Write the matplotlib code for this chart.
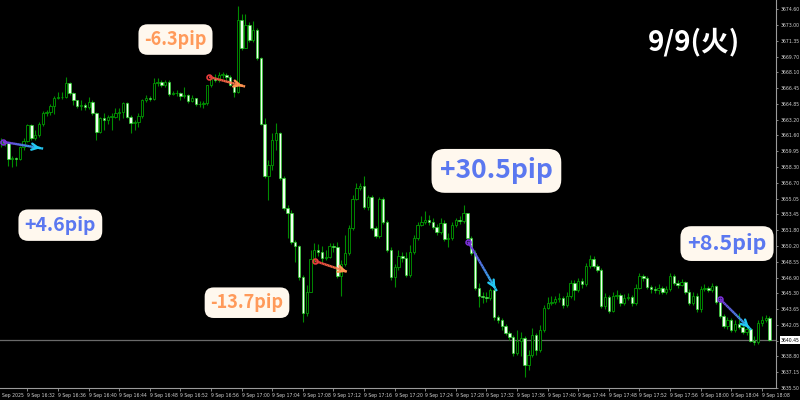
import numpy as np
import matplotlib
matplotlib.use("Agg")
import matplotlib.pyplot as plt
from matplotlib.collections import LineCollection
from matplotlib.colors import to_rgb

plt.rcParams['font.family'] = ['Noto Sans CJK JP', 'DejaVu Sans']

# 30秒足 XAUUSD 9 Sep 16:28 - 18:10 (読み取り値)
first_open = 3660.8
closes = [
    3661.0, 3660.8, 3659.1, 3659.2, 3659.1, 3660.4, 3661.0, 3662.6, 3661.3, 3661.6,
    3662.7, 3663.9, 3664.0, 3664.6, 3665.4, 3665.5, 3665.5, 3667.0, 3665.9, 3665.2,
    3664.6, 3664.7, 3664.5, 3665.0, 3663.9, 3661.9, 3663.4, 3663.2, 3663.5, 3663.5,
    3663.9, 3664.0, 3664.9, 3663.5, 3662.8, 3662.9, 3663.6, 3665.2, 3665.4, 3665.3,
    3667.0, 3667.1, 3666.8, 3667.1, 3665.8, 3665.9, 3665.9, 3665.6, 3665.7, 3665.1,
    3665.4, 3664.8, 3664.8, 3664.9, 3666.8, 3667.5, 3667.3, 3667.8, 3667.8, 3667.6,
    3666.8, 3666.0, 3673.5, 3670.6, 3673.0, 3671.4, 3672.4, 3669.5, 3662.7, 3657.4,
    3658.5, 3661.1, 3661.8, 3657.2, 3654.1, 3653.6, 3650.6, 3650.1, 3647.0, 3643.2,
    3645.4, 3648.8, 3649.7, 3649.5, 3648.9, 3649.0, 3650.1, 3650.0, 3647.1, 3648.3,
    3649.4, 3652.0, 3655.0, 3656.1, 3656.3, 3654.2, 3655.2, 3652.0, 3651.2, 3655.0,
    3652.6, 3649.7, 3647.0, 3648.0, 3649.1, 3648.9, 3647.2, 3649.5, 3651.0, 3652.3,
    3652.6, 3652.8, 3652.6, 3652.1, 3651.6, 3652.5, 3650.9, 3651.0, 3652.3, 3652.8,
    3652.7, 3653.6, 3651.0, 3649.4, 3645.8, 3645.0, 3644.9, 3644.8, 3645.6, 3642.8,
    3642.5, 3641.9, 3641.2, 3640.8, 3639.1, 3640.3, 3640.7, 3637.9, 3638.9, 3641.0,
    3639.4, 3641.5, 3643.8, 3644.3, 3644.4, 3644.7, 3644.8, 3644.1, 3645.0, 3646.3,
    3645.6, 3646.5, 3646.2, 3648.1, 3648.8, 3648.1, 3647.7, 3644.0, 3644.9, 3643.4,
    3645.0, 3645.1, 3644.3, 3644.8, 3644.9, 3644.3, 3645.8, 3647.1, 3646.9, 3645.9,
    3645.7, 3645.6, 3645.8, 3645.4, 3645.7, 3647.1, 3646.3, 3646.1, 3646.4, 3645.4,
    3644.3, 3645.0, 3643.6, 3645.7, 3645.8, 3645.6, 3646.0, 3644.4, 3642.9, 3641.9,
    3642.5, 3641.5, 3642.1, 3641.8, 3641.3, 3641.6, 3640.4, 3640.2, 3642.2, 3642.5,
    3642.7, 3640.45,
]
highs = [
    3661.3, 3661.1, 3660.8, 3659.4, 3659.3, 3660.5, 3661.3, 3662.7, 3662.7, 3662.1,
    3662.9, 3664.1, 3664.2, 3664.8, 3665.6, 3666.0, 3666.0, 3667.6, 3667.1, 3666.0,
    3665.2, 3665.2, 3664.9, 3665.5, 3665.2, 3664.0, 3663.5, 3663.9, 3663.7, 3663.9,
    3664.4, 3664.4, 3665.0, 3665.0, 3663.7, 3663.2, 3663.9, 3665.3, 3665.7, 3665.6,
    3667.5, 3667.5, 3667.3, 3667.3, 3667.3, 3666.1, 3666.2, 3666.0, 3666.6, 3665.8,
    3665.7, 3665.4, 3665.1, 3665.1, 3666.8, 3667.7, 3667.9, 3668.1, 3668.1, 3668.0,
    3667.8, 3666.9, 3674.9, 3674.1, 3674.1, 3673.3, 3673.4, 3672.6, 3669.6, 3663.4,
    3659.0, 3661.8, 3662.8, 3661.9, 3657.4, 3654.4, 3653.9, 3650.8, 3650.3, 3647.2,
    3646.1, 3649.7, 3650.5, 3650.4, 3650.2, 3649.7, 3650.5, 3650.5, 3650.6, 3648.7,
    3651.3, 3652.3, 3655.4, 3656.7, 3656.7, 3657.4, 3655.4, 3655.4, 3652.2, 3655.2,
    3655.2, 3652.8, 3650.0, 3648.3, 3649.7, 3649.5, 3649.5, 3650.3, 3651.3, 3652.6,
    3653.2, 3653.8, 3653.3, 3653.0, 3652.4, 3653.0, 3652.8, 3651.5, 3652.6, 3653.0,
    3653.2, 3654.4, 3653.6, 3651.2, 3649.7, 3646.3, 3645.4, 3645.4, 3645.8, 3645.7,
    3643.0, 3642.7, 3642.1, 3641.4, 3641.0, 3641.5, 3641.3, 3640.9, 3639.4, 3641.7,
    3641.2, 3642.0, 3644.1, 3644.9, 3645.0, 3645.0, 3645.3, 3645.0, 3645.4, 3646.6,
    3646.6, 3646.8, 3646.8, 3648.4, 3649.2, 3649.1, 3648.3, 3647.9, 3645.3, 3645.1,
    3645.4, 3645.6, 3645.3, 3645.2, 3645.3, 3645.1, 3646.2, 3647.4, 3647.3, 3647.1,
    3646.1, 3646.0, 3646.2, 3646.0, 3646.0, 3647.4, 3647.3, 3646.6, 3646.7, 3646.5,
    3645.7, 3645.4, 3645.3, 3646.0, 3646.2, 3646.0, 3646.3, 3646.1, 3644.6, 3643.1,
    3642.8, 3642.7, 3642.5, 3643.2, 3642.0, 3641.9, 3641.7, 3640.9, 3642.5, 3642.9,
    3643.0, 3642.9,
]
lows = [
    3660.4, 3660.5, 3658.4, 3658.3, 3658.4, 3659.0, 3660.1, 3660.9, 3661.1, 3661.1,
    3661.4, 3662.5, 3663.6, 3663.7, 3663.8, 3665.3, 3665.3, 3665.4, 3665.7, 3664.7,
    3664.4, 3664.2, 3664.2, 3664.3, 3663.7, 3661.1, 3661.8, 3662.1, 3662.7, 3662.1,
    3663.4, 3663.2, 3663.4, 3663.4, 3661.8, 3662.1, 3662.4, 3663.4, 3665.0, 3665.1,
    3665.2, 3666.7, 3666.6, 3666.6, 3665.6, 3665.7, 3665.6, 3665.2, 3665.4, 3664.9,
    3665.0, 3664.6, 3664.5, 3664.4, 3664.7, 3666.6, 3667.1, 3667.1, 3667.5, 3667.3,
    3666.7, 3665.5, 3665.9, 3670.4, 3670.6, 3671.2, 3671.2, 3669.3, 3662.6, 3657.2,
    3654.9, 3658.0, 3660.1, 3657.0, 3653.9, 3651.0, 3650.4, 3648.5, 3646.6, 3642.3,
    3642.9, 3645.4, 3648.5, 3649.1, 3648.5, 3648.7, 3648.9, 3649.5, 3646.8, 3645.0,
    3648.1, 3649.2, 3651.8, 3654.9, 3655.9, 3654.0, 3653.9, 3651.8, 3651.0, 3651.0,
    3652.4, 3649.5, 3646.6, 3645.9, 3647.7, 3648.5, 3647.0, 3647.0, 3649.3, 3650.8,
    3652.2, 3652.4, 3652.3, 3651.9, 3651.3, 3651.4, 3650.7, 3650.0, 3650.8, 3652.1,
    3652.4, 3652.5, 3650.8, 3649.2, 3645.6, 3643.9, 3644.3, 3644.4, 3644.6, 3642.5,
    3642.2, 3641.5, 3641.0, 3640.5, 3638.8, 3638.9, 3638.8, 3636.6, 3637.4, 3638.7,
    3638.9, 3639.2, 3641.3, 3643.6, 3644.1, 3644.2, 3644.4, 3643.8, 3643.9, 3644.8,
    3644.6, 3645.4, 3645.8, 3646.0, 3647.9, 3647.9, 3647.5, 3643.8, 3643.7, 3643.2,
    3643.3, 3644.7, 3644.0, 3644.1, 3644.6, 3644.0, 3644.1, 3645.7, 3646.5, 3645.7,
    3645.3, 3645.3, 3645.2, 3645.2, 3645.2, 3645.5, 3646.1, 3645.8, 3646.0, 3645.2,
    3644.1, 3644.1, 3643.3, 3643.3, 3645.5, 3645.4, 3645.4, 3644.2, 3642.7, 3641.7,
    3641.6, 3641.3, 3641.3, 3641.6, 3641.1, 3641.0, 3640.2, 3639.9, 3640.0, 3641.9,
    3642.3, 3640.3,
]
opens = [first_open] + closes[:-1]   # FXの足なので始値=前の足の終値

time_labels = ["9 Sep 16:32", "9 Sep 16:36", "9 Sep 16:40", "9 Sep 16:44", "9 Sep 16:48",
               "9 Sep 16:52", "9 Sep 16:56", "9 Sep 17:00", "9 Sep 17:04", "9 Sep 17:08",
               "9 Sep 17:12", "9 Sep 17:16", "9 Sep 17:20", "9 Sep 17:24", "9 Sep 17:28",
               "9 Sep 17:32", "9 Sep 17:36", "9 Sep 17:40", "9 Sep 17:44", "9 Sep 17:48",
               "9 Sep 17:52", "9 Sep 17:56", "9 Sep 18:00", "9 Sep 18:04", "9 Sep 18:08"]
price_labels = [3674.60, 3673.00, 3671.35, 3669.70, 3668.10, 3666.45, 3664.85, 3663.20,
                3661.60, 3659.95, 3658.30, 3656.70, 3655.05, 3653.45, 3651.80, 3650.20,
                3648.55, 3646.90, 3645.30, 3643.65, 3642.05, 3640.40, 3638.80, 3637.15,
                3635.50]
last_price = 3640.45

# 矢印: (始点の足, 始点価格, 終点の足, 終点価格, 種類)
moves = [
    (0.6, 3660.9, 11.1, 3660.2, "up"),
    (54.5, 3667.6, 63.9, 3666.6, "down"),
    (82.2, 3648.6, 90.5, 3647.5, "down"),
    (122.2, 3650.6, 129.7, 3645.5, "up"),
    (188.0, 3644.7, 196.2, 3641.5, "up"),
]
# ラベル: (文字, 足, 価格, 文字サイズ, 種類)
pip_labels = [
    ("+4.6pip", 15.6, 3652.3, 14, "up"),
    ("-6.3pip", 45.7, 3671.45, 13, "down"),
    ("-13.7pip", 64.4, 3644.3, 13, "down"),
    ("+30.5pip", 129.6, 3657.9, 19, "up"),
    ("+8.5pip", 189.9, 3650.4, 15.5, "up"),
]

fig = plt.figure(figsize=(8, 4), dpi=100, facecolor='black')
ax = fig.add_axes([0, 12 / 400, 776 / 800, 388 / 400], facecolor='black')

n = len(closes)
idx = np.arange(n)
o = np.array(opens)
c = np.array(closes)

ax.vlines(idx, lows, highs, color='#008c00', lw=0.8, zorder=2)
bull = c >= o
body_lo = np.minimum(o, c)
body_h = np.maximum(np.abs(c - o), 0.05)
ax.bar(idx[bull], body_h[bull], bottom=body_lo[bull], width=0.6,
       color='black', edgecolor='#009c00', linewidth=0.6, zorder=3)
ax.bar(idx[~bull], body_h[~bull], bottom=body_lo[~bull], width=0.65,
       color='#f0fff0', edgecolor='#22d822', linewidth=0.45, zorder=3)

ax.axhline(last_price, color='#6a6a6a', lw=0.9, zorder=1)

ax.set_xlim(-0.18, 202.7)
ax.set_ylim(3635.50, 3675.53)

for s in ['left', 'top']:
    ax.spines[s].set_visible(False)
for s in ['right', 'bottom']:
    ax.spines[s].set_color('#9a9a9a')
    ax.spines[s].set_linewidth(0.8)

ax.yaxis.tick_right()
ax.set_yticks(price_labels)
ax.set_yticklabels([f"{p:.2f}" for p in price_labels], fontsize=3.3,
                   color='#d0d0d0', family='DejaVu Sans')
ax.tick_params(axis='y', length=1.5, width=0.5, color='#bbbbbb', pad=1.5)

tick_idx = [7 + 8 * k for k in range(len(time_labels))]
ax.set_xticks(tick_idx)
ax.set_xticklabels(time_labels, fontsize=3.3, color='#d0d0d0', family='DejaVu Sans', ha='left')
ax.tick_params(axis='x', length=2, width=0.5, color='#bbbbbb', pad=1.5)
ax.text(0.3, -0.012, "Sep 2025", transform=ax.get_xaxis_transform(), fontsize=3.3,
        color='#d0d0d0', family='DejaVu Sans', ha='left', va='top')

ax.text(1.006, last_price, f"{last_price:.2f}", transform=ax.get_yaxis_transform(),
        fontsize=3.3, color='black', family='DejaVu Sans', ha='left', va='center',
        bbox=dict(boxstyle='square,pad=0.25', fc='white', ec='none'), clip_on=False)

colors = {"up": ('#7a2fd6', '#22c8f2'), "down": ('#e83c3c', '#ff9350')}
for x0, y0, x1, y1, kind in moves:
    c0, c1 = colors[kind]
    t = np.linspace(0, 1, 21)
    xs = x0 + (x1 - x0) * t
    ys = y0 + (y1 - y0) * t
    segs = np.stack([np.column_stack([xs[:-1], ys[:-1]]), np.column_stack([xs[1:], ys[1:]])], axis=1)
    cols = [tuple(np.array(to_rgb(c0)) * (1 - m) + np.array(to_rgb(c1)) * m) for m in (t[:-1] + t[1:]) / 2]
    ax.add_collection(LineCollection(segs, colors=cols, linewidths=1.7, zorder=6))
    ax.plot([x0], [y0], 'o', mfc='none', mec=c0, ms=3.5, mew=1.2, zorder=7)
    ax.annotate('', xy=(x1, y1), xytext=(x1 - 0.15 * (x1 - x0), y1 - 0.15 * (y1 - y0)),
                arrowprops=dict(arrowstyle='->', color=c1, lw=1.7, mutation_scale=11), zorder=7)

text_colors = {"up": '#5b78f0', "down": '#ff9a5a'}
for s, xi, yp, fs, kind in pip_labels:
    ax.text(xi, yp, s, ha='center', va='center', fontsize=fs, fontweight='bold',
            color=text_colors[kind], zorder=8,
            bbox=dict(boxstyle='round,pad=0.32,rounding_size=0.5', fc='#fff8ee', ec='none'))

ax.text(0.894, 0.892, "9/9(火)", transform=ax.transAxes, ha='center', va='center',
        fontsize=20, fontweight='bold', color='white', zorder=8)

fig.savefig("out.png", dpi=100, facecolor='black')
